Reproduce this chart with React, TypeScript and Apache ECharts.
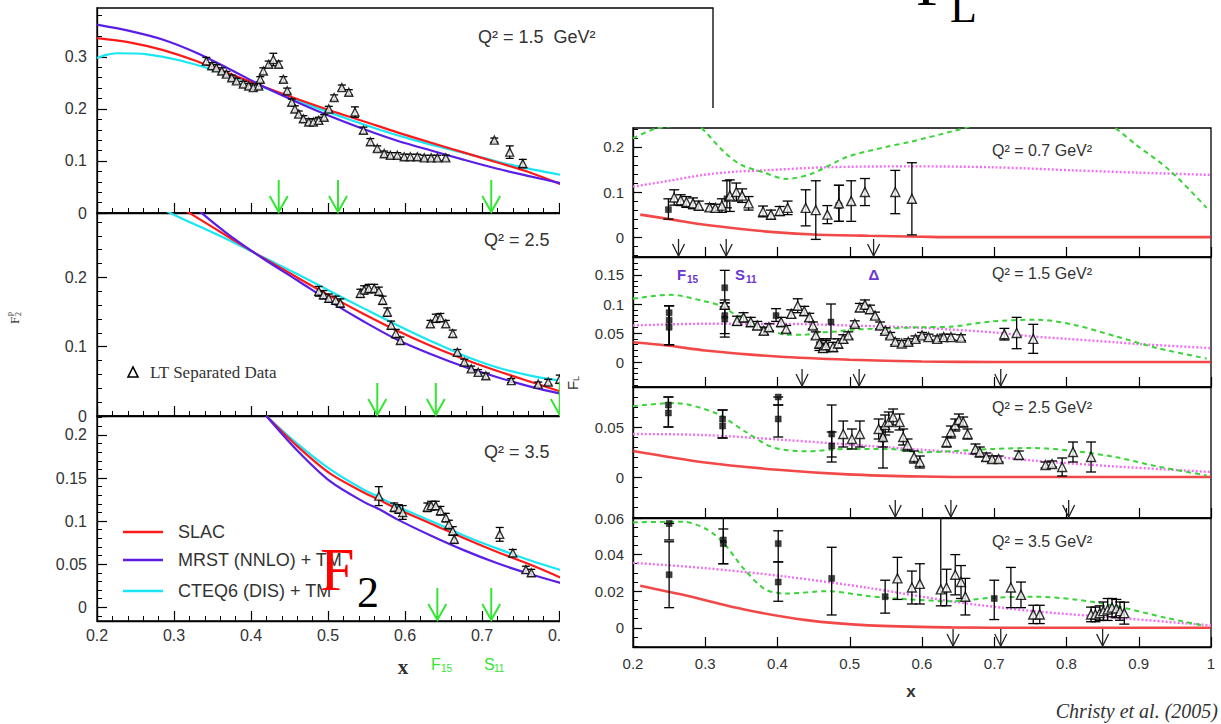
import React, { useEffect, useRef } from "react";
import * as echarts from "echarts";

// ================= DATA =================
// ---- Left figure: F2 (x axis 0.2 - 1.0) ----
const F2_X_TICKS = [0.2, 0.3, 0.4, 0.5, 0.6, 0.7, 0.8, 0.9, 1.0];
const F2A_Y_TICKS = [0, 0.1, 0.2, 0.3];
const F2B_Y_TICKS = [0, 0.1, 0.2];
const F2C_Y_TICKS = [0, 0.05, 0.1, 0.15, 0.2];
const F2_Q2 = ["Q² = 1.5  GeV²", "Q² = 2.5  GeV²", "Q² = 3.5  GeV²"];
const F2_LEGEND = ["SLAC", "MRST (NNLO) + TM", "CTEQ6 (DIS) + TM"];

// Q2 = 1.5
const F2A_X = [0.2, 0.242, 0.286, 0.329, 0.373, 0.416, 0.46, 0.503, 0.547, 0.59, 0.634, 0.677, 0.72, 0.764, 0.803];
const F2A_SLAC = [0.336, 0.328, 0.313, 0.292, 0.267, 0.243, 0.219, 0.197, 0.176, 0.155, 0.135, 0.116, 0.097, 0.077, 0.055];
const F2A_MRST = [0.362, 0.35, 0.333, 0.308, 0.276, 0.243, 0.213, 0.186, 0.161, 0.139, 0.12, 0.102, 0.085, 0.07, 0.057];
const F2A_CTEQ_X = [0.2, 0.21, 0.226, 0.265, 0.308, 0.351, 0.395, 0.438, 0.482, 0.525, 0.569, 0.612, 0.656, 0.699, 0.742, 0.803];
const F2A_CTEQ = [0.298, 0.303, 0.307, 0.305, 0.293, 0.275, 0.253, 0.229, 0.204, 0.181, 0.159, 0.14, 0.123, 0.107, 0.091, 0.073];
const F2A_DATA = [
  [0.342, 0.292, 0.007], [0.349, 0.283, 0.006], [0.355, 0.279, 0.006], [0.362, 0.273, 0.006], [0.368, 0.267, 0.005],
  [0.375, 0.26, 0.005], [0.381, 0.254, 0.005], [0.39, 0.248, 0.005], [0.397, 0.244, 0.005], [0.403, 0.241, 0.005],
  [0.41, 0.244, 0.005], [0.412, 0.257, 0.005], [0.416, 0.273, 0.006], [0.423, 0.286, 0.006], [0.429, 0.295, 0.012],
  [0.436, 0.286, 0.006], [0.442, 0.257, 0.005], [0.447, 0.235, 0.005], [0.453, 0.213, 0.006], [0.457, 0.2, 0.006],
  [0.462, 0.19, 0.006], [0.468, 0.181, 0.006], [0.475, 0.175, 0.006], [0.481, 0.175, 0.006], [0.488, 0.178, 0.006],
  [0.495, 0.184, 0.005], [0.501, 0.2, 0.005], [0.508, 0.222, 0.005], [0.518, 0.241, 0.005], [0.527, 0.232, 0.005],
  [0.535, 0.194, 0.01], [0.546, 0.159, 0.006], [0.555, 0.137, 0.006], [0.564, 0.124, 0.005], [0.573, 0.114, 0.005],
  [0.581, 0.111, 0.005], [0.59, 0.111, 0.005], [0.599, 0.108, 0.005], [0.607, 0.108, 0.005], [0.616, 0.108, 0.005],
  [0.625, 0.106, 0.005], [0.634, 0.106, 0.005], [0.642, 0.106, 0.005], [0.653, 0.106, 0.005],
  [0.716, 0.14, 0.004], [0.736, 0.117, 0.012], [0.753, 0.095, 0.008],
];
const F2A_ARROWS = [0.436, 0.513, 0.712];

// Q2 = 2.5
const F2B_X = [0.373, 0.416, 0.46, 0.503, 0.547, 0.59, 0.634, 0.677, 0.72, 0.764, 0.803];
const F2B_SLAC_X = [0.31, 0.323, ...F2B_X];
const F2B_SLAC = [0.3, 0.291, 0.257, 0.228, 0.2, 0.173, 0.147, 0.123, 0.101, 0.082, 0.065, 0.049, 0.035];
const F2B_MRST_X = [0.33, 0.338, ...F2B_X];
const F2B_MRST = [0.3, 0.291, 0.26, 0.227, 0.196, 0.165, 0.136, 0.11, 0.089, 0.071, 0.056, 0.042, 0.032];
const F2B_CTEQ_X = [0.28, 0.299, ...F2B_X];
const F2B_CTEQ = [0.302, 0.291, 0.253, 0.229, 0.205, 0.18, 0.155, 0.131, 0.108, 0.087, 0.07, 0.058, 0.051];
const F2B_DATA = [
  [0.488, 0.18, 0.007], [0.494, 0.175, 0.006], [0.501, 0.17, 0.006], [0.51, 0.167, 0.006], [0.516, 0.163, 0.006],
  [0.542, 0.177, 0.006], [0.547, 0.182, 0.006], [0.553, 0.184, 0.006], [0.56, 0.184, 0.006], [0.566, 0.18, 0.006],
  [0.571, 0.167, 0.006], [0.577, 0.15, 0.006], [0.582, 0.131, 0.006], [0.588, 0.119, 0.006], [0.594, 0.109, 0.005],
  [0.633, 0.133, 0.005], [0.64, 0.141, 0.006], [0.646, 0.142, 0.006], [0.653, 0.133, 0.005], [0.662, 0.119, 0.005],
  [0.668, 0.092, 0.004], [0.677, 0.078, 0.004], [0.686, 0.068, 0.004], [0.695, 0.063, 0.004], [0.705, 0.058, 0.004],
  [0.738, 0.051, 0.003], [0.773, 0.046, 0.003], [0.786, 0.049, 0.004], [0.801, 0.053, 0.006],
];
const F2B_ARROWS = [0.564, 0.64, 0.801];

// Q2 = 3.5
const F2C_X = [0.42, 0.46, 0.503, 0.547, 0.566, 0.59, 0.634, 0.677, 0.72, 0.764, 0.803];
const F2C_SLAC = [0.222, 0.187, 0.155, 0.133, 0.125, 0.114, 0.097, 0.08, 0.064, 0.049, 0.034];
const F2C_MRST = [0.222, 0.182, 0.146, 0.122, 0.114, 0.102, 0.083, 0.066, 0.051, 0.038, 0.028];
const F2C_CTEQ = [0.222, 0.19, 0.16, 0.136, 0.128, 0.117, 0.1, 0.083, 0.068, 0.054, 0.043];
const F2C_DATA = [
  [0.566, 0.129, 0.011], [0.586, 0.116, 0.005], [0.592, 0.114, 0.005], [0.597, 0.11, 0.008], [0.629, 0.116, 0.005],
  [0.634, 0.118, 0.005], [0.64, 0.118, 0.005], [0.646, 0.112, 0.005], [0.653, 0.104, 0.005], [0.657, 0.096, 0.005],
  [0.662, 0.0885, 0.005], [0.664, 0.079, 0.005], [0.723, 0.0846, 0.008], [0.74, 0.063, 0.004], [0.757, 0.0436, 0.004],
  [0.764, 0.04, 0.004],
];
const F2C_ARROWS = [0.642, 0.712];

// ---- Right figure: FL (x axis 0.2 - 1.0) ----
const FL_X_TICKS = [0.2, 0.3, 0.4, 0.5, 0.6, 0.7, 0.8, 0.9, 1.0];
const FL_Y_TICKS = [[0, 0.1, 0.2], [0, 0.05, 0.1, 0.15], [0, 0.05], [0, 0.02, 0.04, 0.06]];
const FL_Q2 = ["Q² = 0.7 GeV²", "Q² = 1.5 GeV²", "Q² = 2.5 GeV²", "Q² = 3.5 GeV²"];

// Q2 = 0.7
const FL1_GREEN_X = [0.2, 0.23, 0.257, 0.275, 0.291, 0.326, 0.35, 0.38, 0.411, 0.446, 0.497, 0.55, 0.583, 0.64, 0.669, 0.72, 0.77, 0.82, 0.863, 0.897, 0.943, 0.994];
const FL1_GREEN = [0.219, 0.24, 0.247, 0.252, 0.247, 0.189, 0.16, 0.144, 0.129, 0.14, 0.178, 0.2, 0.211, 0.234, 0.247, 0.285, 0.3, 0.285, 0.247, 0.204, 0.148, 0.065];
const FL1_MAG_X = [0.2, 0.25, 0.297, 0.34, 0.38, 0.469, 0.583, 0.697, 0.811, 0.9, 1.0];
const FL1_MAG = [0.112, 0.125, 0.138, 0.145, 0.148, 0.155, 0.157, 0.155, 0.148, 0.143, 0.138];
const FL1_RED_X = [0.21, 0.25, 0.297, 0.35, 0.4, 0.45, 0.526, 0.6, 0.64, 0.7, 0.8, 0.9, 1.0];
const FL1_RED = [0.05, 0.04, 0.028, 0.018, 0.0105, 0.006, 0.003, 0.001, 0, 0, 0, 0, 0];
const FL1_TRI = [
  [0.257, 0.088, 0.017], [0.266, 0.082, 0.012], [0.274, 0.078, 0.012], [0.283, 0.075, 0.012], [0.291, 0.07, 0.01],
  [0.306, 0.066, 0.008], [0.314, 0.065, 0.008], [0.323, 0.07, 0.015], [0.334, 0.092, 0.035], [0.343, 0.1, 0.02],
  [0.351, 0.092, 0.015], [0.36, 0.075, 0.015], [0.38, 0.057, 0.012], [0.391, 0.05, 0.01], [0.403, 0.058, 0.01],
  [0.414, 0.065, 0.015], [0.439, 0.065, 0.04], [0.453, 0.06, 0.065], [0.469, 0.05, 0.02], [0.485, 0.075, 0.04],
  [0.502, 0.08, 0.045], [0.521, 0.1, 0.03], [0.563, 0.1, 0.048], [0.586, 0.085, 0.08],
];
const FL1_SQ = [[0.249, 0.061, 0.04, 0.085], [0.33, 0.085, 0.065, 0.125], [0.485, 0.07, 0.035, 0.115]];
const FL1_ARROWS = [0.263, 0.329, 0.533];

// Q2 = 1.5
const FL2_GREEN_X = [0.2, 0.251, 0.298, 0.321, 0.344, 0.367, 0.391, 0.414, 0.437, 0.46, 0.484, 0.507, 0.553, 0.6, 0.64, 0.697, 0.76, 0.811, 0.869, 0.926, 0.994];
const FL2_GREEN = [0.109, 0.116, 0.105, 0.097, 0.08, 0.066, 0.054, 0.047, 0.047, 0.051, 0.053, 0.056, 0.058, 0.06, 0.061, 0.07, 0.073, 0.064, 0.044, 0.024, 0.006];
const FL2_MAG_X = [0.2, 0.3, 0.4, 0.5, 0.6, 0.64, 0.7, 0.754, 0.8, 0.869, 0.9, 1.0];
const FL2_MAG = [0.063, 0.066, 0.066, 0.063, 0.059, 0.056, 0.051, 0.044, 0.04, 0.034, 0.031, 0.024];
const FL2_RED_X = [0.2, 0.25, 0.3, 0.4, 0.5, 0.6, 0.7, 0.8, 1.0];
const FL2_RED = [0.034, 0.028, 0.02, 0.0095, 0.004, 0.001, 0, 0, 0];
const FL2_TRI = [
  [0.327, 0.099, 0.008], [0.344, 0.071, 0.008], [0.353, 0.077, 0.008], [0.363, 0.069, 0.008], [0.372, 0.063, 0.007],
  [0.381, 0.054, 0.006], [0.388, 0.06, 0.006], [0.405, 0.069, 0.008], [0.412, 0.057, 0.006], [0.419, 0.083, 0.007],
  [0.428, 0.097, 0.012], [0.437, 0.088, 0.008], [0.444, 0.077, 0.007], [0.449, 0.063, 0.006], [0.453, 0.046, 0.006],
  [0.458, 0.032, 0.008], [0.463, 0.024, 0.007], [0.467, 0.029, 0.008], [0.477, 0.026, 0.008], [0.484, 0.032, 0.008],
  [0.491, 0.04, 0.007], [0.498, 0.046, 0.006], [0.507, 0.066, 0.005], [0.514, 0.094, 0.007], [0.521, 0.099, 0.008],
  [0.528, 0.091, 0.007], [0.535, 0.08, 0.006], [0.542, 0.063, 0.006], [0.549, 0.054, 0.005], [0.556, 0.046, 0.005],
  [0.563, 0.035, 0.005], [0.572, 0.032, 0.005], [0.581, 0.035, 0.005], [0.591, 0.04, 0.005], [0.6, 0.046, 0.005],
  [0.609, 0.043, 0.005], [0.621, 0.04, 0.005], [0.63, 0.043, 0.005], [0.64, 0.043, 0.005], [0.654, 0.042, 0.005],
  [0.714, 0.048, 0.01], [0.731, 0.05, 0.027], [0.754, 0.04, 0.025],
];
const FL2_SQ = [
  [0.25, 0.085, 0.03, 0.097], [0.25, 0.072, 0.03, 0.097], [0.25, 0.06, 0.03, 0.097],
  [0.327, 0.128, 0.102, 0.158], [0.327, 0.08, 0.043, 0.102], [0.327, 0.074, 0.049, 0.095],
  [0.398, 0.08, 0.07, 0.092], [0.474, 0.069, 0.04, 0.1], [0.467, 0.028, 0.018, 0.04], [0.458, 0.03, 0.02, 0.04],
];
const FL2_ARROWS = [0.434, 0.513, 0.709];

// Q2 = 2.5
const FL3_GREEN_X = [0.2, 0.257, 0.314, 0.354, 0.394, 0.44, 0.497, 0.554, 0.6, 0.64, 0.697, 0.754, 0.811, 0.869, 0.926, 0.994];
const FL3_GREEN = [0.0707, 0.074, 0.064, 0.046, 0.0296, 0.0257, 0.028, 0.028, 0.0247, 0.0257, 0.028, 0.029, 0.026, 0.0197, 0.0105, 0.0016];
const FL3_MAG_X = [0.2, 0.297, 0.411, 0.526, 0.64, 0.754, 0.869, 1.0];
const FL3_MAG = [0.043, 0.042, 0.037, 0.031, 0.025, 0.0164, 0.0105, 0.005];
const FL3_RED_X = [0.2, 0.297, 0.4, 0.497, 0.6, 0.7, 1.0];
const FL3_RED = [0.026, 0.0148, 0.0072, 0.0026, 0.0005, 0, 0];
const FL3_TRI = [
  [0.491, 0.043, 0.013], [0.503, 0.038, 0.01], [0.514, 0.043, 0.013], [0.54, 0.048, 0.01], [0.546, 0.04, 0.01],
  [0.549, 0.052, 0.01], [0.554, 0.055, 0.01], [0.56, 0.06, 0.008], [0.569, 0.055, 0.008], [0.574, 0.04, 0.008],
  [0.58, 0.032, 0.006], [0.589, 0.02, 0.006], [0.597, 0.015, 0.006], [0.634, 0.035, 0.005], [0.64, 0.045, 0.006],
  [0.646, 0.052, 0.006], [0.651, 0.057, 0.006], [0.657, 0.055, 0.005], [0.663, 0.043, 0.005], [0.674, 0.028, 0.005],
  [0.68, 0.025, 0.005], [0.689, 0.02, 0.004], [0.697, 0.018, 0.003], [0.706, 0.018, 0.003], [0.734, 0.022, 0.004],
  [0.771, 0.012, 0.003], [0.78, 0.013, 0.003], [0.794, 0.01, 0.009], [0.809, 0.025, 0.01], [0.834, 0.02, 0.015],
];
const FL3_SQ = [
  [0.249, 0.072, 0.05, 0.08], [0.249, 0.064, 0.05, 0.08], [0.324, 0.058, 0.039, 0.067], [0.324, 0.051, 0.039, 0.067],
  [0.401, 0.08, 0.072, 0.08], [0.401, 0.058, 0.04, 0.072], [0.475, 0.043, 0.015, 0.072], [0.475, 0.031, 0.02, 0.045],
  [0.546, 0.038, 0.009, 0.05],
];
const FL3_ARROWS = [0.563, 0.64, 0.803];

// Q2 = 3.5
const FL4_GREEN_X = [0.2, 0.269, 0.303, 0.326, 0.354, 0.383, 0.411, 0.469, 0.526, 0.583, 0.64, 0.697, 0.754, 0.811, 0.869, 0.937, 0.989];
const FL4_GREEN = [0.0576, 0.058, 0.0536, 0.046, 0.032, 0.021, 0.0187, 0.02, 0.0173, 0.0155, 0.0145, 0.0164, 0.017, 0.0155, 0.0118, 0.0055, 0.0013];
const FL4_MAG_X = [0.2, 0.297, 0.411, 0.526, 0.64, 0.754, 0.869, 1.0];
const FL4_MAG = [0.0355, 0.0327, 0.028, 0.0218, 0.0145, 0.0091, 0.0055, 0.0013];
const FL4_RED_X = [0.21, 0.269, 0.354, 0.44, 0.526, 0.64, 0.75, 1.0];
const FL4_RED = [0.023, 0.018, 0.01, 0.0042, 0.0013, 0.0002, 0, 0];
const FL4_TRI = [
  [0.566, 0.027, 0.0115], [0.586, 0.022, 0.009], [0.597, 0.024, 0.011], [0.626, 0.021, 0.012, 0.065],
  [0.634, 0.022, 0.01], [0.646, 0.029, 0.011], [0.654, 0.025, 0.009], [0.66, 0.017, 0.01], [0.723, 0.022, 0.011],
  [0.737, 0.018, 0.007], [0.754, 0.0073, 0.005], [0.763, 0.0073, 0.005], [0.834, 0.0073, 0.004], [0.84, 0.0073, 0.004],
  [0.846, 0.008, 0.004], [0.851, 0.0091, 0.005], [0.857, 0.01, 0.006], [0.863, 0.011, 0.005], [0.869, 0.0105, 0.005],
  [0.874, 0.0091, 0.005], [0.88, 0.008, 0.006],
];
const FL4_SQ = [
  [0.25, 0.057, 0.048, 0.057], [0.25, 0.029, 0.011, 0.047], [0.325, 0.048, 0.035, 0.054], [0.325, 0.046, 0.035, 0.06],
  [0.401, 0.046, 0.036, 0.053], [0.401, 0.025, 0.0145, 0.036], [0.475, 0.027, 0.007, 0.044], [0.549, 0.017, 0.008, 0.026],
  [0.7, 0.016, 0.0045, 0.026],
];
const FL4_ARROWS = [0.643, 0.709, 0.85];

// ================= HELPERS =================
const SANS = '"Liberation Sans", Arial, Helvetica, sans-serif';
const SERIF = '"Liberation Serif", "Times New Roman", serif';
const C_SLAC = "#ff1a1a";
const C_MRST = "#5a1ee6";
const C_CTEQ = "#19e6f5";
const C_ARROW_G = "#33e633";
const C_GREEN = "#3ad43a";
const C_MAG = "#f070f0";
const C_RED = "#f02828";

const fmt = (v: any) => String(+(+v).toFixed(3));

function stepVals(a: number, b: number, s: number) {
  const out: number[] = [];
  const n = Math.round((b - a) / s);
  for (let i = 0; i <= n; i++) out.push(+(a + i * s).toFixed(5));
  return out;
}

function yPair(grid: number, min: number, max: number, majors: number[], minorStep: number, fontSize: number, majorLen: number, minorLen: number, margin: number) {
  const from = Math.ceil(min / minorStep - 1e-6) * minorStep;
  const to = Math.floor(max / minorStep + 1e-6) * minorStep;
  const minors = stepVals(from, to, minorStep).filter((v) => !majors.some((m) => Math.abs(m - v) < 1e-6));
  return [
    {
      type: "value", gridIndex: grid, min, max, position: "left",
      axisLine: { show: true, onZero: false, lineStyle: { color: "#000", width: 1.3 } },
      axisTick: { show: true, inside: true, length: majorLen, customValues: majors, lineStyle: { color: "#000", width: 1.2 } },
      axisLabel: { show: true, customValues: majors, formatter: fmt, fontSize, color: "#333", fontFamily: SANS, margin },
      splitLine: { show: false },
    },
    {
      type: "value", gridIndex: grid, min, max, position: "left",
      axisLine: { show: false },
      axisTick: { show: true, inside: true, length: minorLen, customValues: minors, lineStyle: { color: "#000", width: 1 } },
      axisLabel: { show: false },
      splitLine: { show: false },
    },
  ];
}

function curve(xs: number[], ys: number[], color: string, width: number, type: any, xi: number, yi: number, opacity = 1) {
  return {
    type: "line", xAxisIndex: xi, yAxisIndex: yi,
    data: xs.map((x, i) => [x, ys[i]]),
    symbol: "none", showSymbol: false, smooth: 0.3, clip: true, silent: true,
    lineStyle: { color, width, type, opacity }, z: 2,
  };
}

function errBars(pts: number[][], xi: number, yi: number, cap: number) {
  return {
    type: "custom", xAxisIndex: xi, yAxisIndex: yi, clip: true, silent: true, z: 3,
    data: pts.map((p) => [p[0], p.length === 4 ? p[2] : p[1] - p[2], p.length === 4 ? p[3] : p[1] + p[2]]),
    encode: { x: 0, y: [1, 2] },
    renderItem: (params: any, api: any) => {
      const x = api.value(0);
      const a = api.coord([x, api.value(1)]);
      const b = api.coord([x, api.value(2)]);
      const st = { stroke: "#000", lineWidth: 1.3 };
      return {
        type: "group",
        children: [
          { type: "line", shape: { x1: a[0], y1: a[1], x2: b[0], y2: b[1] }, style: st },
          { type: "line", shape: { x1: a[0] - cap, y1: a[1], x2: a[0] + cap, y2: a[1] }, style: st },
          { type: "line", shape: { x1: b[0] - cap, y1: b[1], x2: b[0] + cap, y2: b[1] }, style: st },
        ],
      };
    },
  };
}

function points(pts: number[][], xi: number, yi: number, kind: "tri" | "sq", size: number) {
  return {
    type: "scatter", xAxisIndex: xi, yAxisIndex: yi, silent: true, z: 4,
    data: pts.map((p) => [p[0], p[1]]),
    symbol: kind === "tri" ? "triangle" : "rect",
    symbolSize: size,
    itemStyle: kind === "tri" ? { color: "#fff", borderColor: "#000", borderWidth: 1.4 } : { color: "#111", borderColor: "#000", borderWidth: 0.5 },
  };
}

function arrows(xs: number[], yBase: number, xi: number, yi: number, len: number, hh: number, hw: number, color: string, w: number) {
  return {
    type: "custom", xAxisIndex: xi, yAxisIndex: yi, silent: true, z: 5, clip: false,
    data: xs.map((x) => [x, yBase]),
    encode: { x: 0, y: 1 },
    renderItem: (params: any, api: any) => {
      const p = api.coord([api.value(0), api.value(1)]);
      const x = p[0], y = p[1] - 1;
      const st = { stroke: color, lineWidth: w, fill: null };
      return {
        type: "group",
        children: [
          { type: "line", shape: { x1: x, y1: y - len, x2: x, y2: y }, style: st },
          { type: "polyline", shape: { points: [[x - hw, y - hh], [x, y], [x + hw, y - hh]] }, style: st },
        ],
      };
    },
  };
}

function txt(x: number, y: number, text: string, font: string, fill = "#333", align = "left", extra: any = {}) {
  return {
    type: "text", x, y, silent: true, z: 20, ...extra,
    style: { text, font, fill, align, textAlign: align, verticalAlign: "middle", textVerticalAlign: "middle" },
  };
}

// ================= LEFT (F2) OPTION =================
function buildLeft() {
  const gridBoxes = [
    { top: 8, height: 205 },
    { top: 213, height: 203 },
    { top: 416, height: 205 },
  ];
  const grid = gridBoxes.map((g) => ({
    left: 97, width: 616, top: g.top, height: g.height, show: true,
    borderColor: "#000", borderWidth: 1.3, backgroundColor: "transparent",
  }));
  const xAxis = [0, 1, 2].map((i) => ({
    type: "value", gridIndex: i, min: F2_X_TICKS[0], max: F2_X_TICKS[F2_X_TICKS.length - 1], interval: 0.1,
    axisLine: { show: true, onZero: false, lineStyle: { color: "#000", width: 1.3 } },
    axisTick: { show: true, inside: true, length: 10, lineStyle: { color: "#000", width: 1.2 } },
    minorTick: { show: true, splitNumber: 5, length: 5, lineStyle: { color: "#000", width: 1 } },
    axisLabel: { show: i === 2, formatter: fmt, fontSize: 16, color: "#333", fontFamily: SANS, margin: 6 },
    splitLine: { show: false }, minorSplitLine: { show: false },
  }));
  const yAxis = [
    ...yPair(0, 0, 0.394, F2A_Y_TICKS, 0.02, 16, 10, 5, 10),
    ...yPair(1, 0, 0.293, F2B_Y_TICKS, 0.02, 16, 10, 5, 10),
    ...yPair(2, -0.016, 0.222, F2C_Y_TICKS, 0.01, 16, 10, 5, 10),
  ];
  const series: any[] = [];
  const panels = [
    { slac: [F2A_X, F2A_SLAC], mrst: [F2A_X, F2A_MRST], cteq: [F2A_CTEQ_X, F2A_CTEQ], data: F2A_DATA, arr: F2A_ARROWS, ymin: 0 },
    { slac: [F2B_SLAC_X, F2B_SLAC], mrst: [F2B_MRST_X, F2B_MRST], cteq: [F2B_CTEQ_X, F2B_CTEQ], data: F2B_DATA, arr: F2B_ARROWS, ymin: 0 },
    { slac: [F2C_X, F2C_SLAC], mrst: [F2C_X, F2C_MRST], cteq: [F2C_X, F2C_CTEQ], data: F2C_DATA, arr: F2C_ARROWS, ymin: -0.016 },
  ];
  panels.forEach((p, i) => {
    const yi = 2 * i;
    series.push(curve(p.cteq[0], p.cteq[1], C_CTEQ, 2.2, "solid", i, yi));
    series.push(curve(p.slac[0], p.slac[1], C_SLAC, 2.2, "solid", i, yi));
    series.push(curve(p.mrst[0], p.mrst[1], C_MRST, 2.2, "solid", i, yi));
    series.push(errBars(p.data, i, yi, 4));
    series.push(points(p.data, i, yi, "tri", 8));
    series.push(arrows(p.arr, p.ymin, i, yi, 32, 16, 9, C_ARROW_G, 2));
  });

  const sub = (x: number, y: number, a: string, b: string, color: string, fa: number, fb: number, font = SANS, weight = "normal") => [
    txt(x, y, a, `${weight} ${fa}px ${font}`, color),
    txt(x + fa * 0.62, y + fa * 0.28, b, `${weight} ${fb}px ${font}`, color),
  ];

  const graphic: any[] = [
    txt(478, 37, F2_Q2[0], `18px ${SANS}`),
    txt(484, 240, F2_Q2[1], `18px ${SANS}`),
    txt(484, 452, F2_Q2[2], `18px ${SANS}`),
    // LT legend
    { type: "polygon", silent: true, z: 20, shape: { points: [[128, 377], [138, 377], [133, 367]] }, style: { fill: "#fff", stroke: "#000", lineWidth: 1.6 } },
    txt(150, 372, "LT Separated Data", `17px ${SERIF}`),
    // curve legend
    { type: "line", silent: true, z: 20, shape: { x1: 123, y1: 532, x2: 163, y2: 532 }, style: { stroke: C_SLAC, lineWidth: 2.5 } },
    { type: "line", silent: true, z: 20, shape: { x1: 123, y1: 560, x2: 163, y2: 560 }, style: { stroke: C_MRST, lineWidth: 2.5 } },
    { type: "line", silent: true, z: 20, shape: { x1: 123, y1: 591, x2: 163, y2: 591 }, style: { stroke: C_CTEQ, lineWidth: 2.5 } },
    txt(178, 532, F2_LEGEND[0], `18px ${SANS}`),
    txt(178, 560, F2_LEGEND[1], `18px ${SANS}`),
    txt(178, 591, F2_LEGEND[2], `18px ${SANS}`),
    // big F2
    txt(320, 569, "F", `62px ${SERIF}`, "#ff0000"),
    txt(357, 592, "2", `44px ${SERIF}`, "#000"),
    // big FL at top
    txt(916, -16, "F", `62px ${SERIF}`, "#000"),
    txt(950, 7, "L", `44px ${SERIF}`, "#000"),
    // x label and resonance labels
    txt(403, 667, "x", `bold 21px ${SERIF}`, "#333", "center"),
    ...sub(431, 664, "F", "15", C_ARROW_G, 16, 10),
    ...sub(484, 664, "S", "11", C_ARROW_G, 16, 10),
    // y label
    {
      type: "group", x: 14, y: 318, rotation: Math.PI / 2, silent: true, z: 20,
      children: [
        txt(-6, 0, "F", `13px ${SERIF}`, "#333"),
        txt(2, 4, "2", `8px ${SERIF}`, "#333"),
        txt(2, -5, "p", `8px ${SERIF}`, "#333"),
      ],
    },
  ];

  return { animation: false, backgroundColor: "#fff", grid, xAxis, yAxis, series, graphic };
}

// ================= RIGHT (FL) OPTION =================
function buildRight() {
  const boxes = [
    { top: 20, height: 129 },
    { top: 149, height: 130 },
    { top: 279, height: 131 },
    { top: 410, height: 129 },
  ];
  const ranges = [[-0.044, 0.242], [-0.043, 0.181], [-0.041, 0.09], [-0.0105, 0.06]];
  const minorSteps = [0.02, 0.01, 0.01, 0.005];
  const grid = boxes.map((g) => ({
    left: 73, right: 10, top: g.top, height: g.height, show: true,
    borderColor: "#000", borderWidth: 1.3, backgroundColor: "transparent",
  }));
  const xAxis = [0, 1, 2, 3].map((i) => ({
    type: "value", gridIndex: i, min: FL_X_TICKS[0], max: FL_X_TICKS[FL_X_TICKS.length - 1], interval: 0.1,
    axisLine: { show: true, onZero: false, lineStyle: { color: "#000", width: 1.3 } },
    axisTick: { show: true, inside: true, length: 10, lineStyle: { color: "#000", width: 1.2 } },
    axisLabel: { show: i === 3, formatter: fmt, fontSize: 15, color: "#333", fontFamily: SANS, margin: 9 },
    splitLine: { show: false },
  }));
  const yAxis: any[] = [];
  for (let i = 0; i < 4; i++) yAxis.push(...yPair(i, ranges[i][0], ranges[i][1], FL_Y_TICKS[i], minorSteps[i], 15, 9, 5, 9));

  const panels = [
    { g: [FL1_GREEN_X, FL1_GREEN], m: [FL1_MAG_X, FL1_MAG], r: [FL1_RED_X, FL1_RED], tri: FL1_TRI, sq: FL1_SQ, arr: FL1_ARROWS },
    { g: [FL2_GREEN_X, FL2_GREEN], m: [FL2_MAG_X, FL2_MAG], r: [FL2_RED_X, FL2_RED], tri: FL2_TRI, sq: FL2_SQ, arr: FL2_ARROWS },
    { g: [FL3_GREEN_X, FL3_GREEN], m: [FL3_MAG_X, FL3_MAG], r: [FL3_RED_X, FL3_RED], tri: FL3_TRI, sq: FL3_SQ, arr: FL3_ARROWS },
    { g: [FL4_GREEN_X, FL4_GREEN], m: [FL4_MAG_X, FL4_MAG], r: [FL4_RED_X, FL4_RED], tri: FL4_TRI, sq: FL4_SQ, arr: FL4_ARROWS },
  ];
  const series: any[] = [];
  panels.forEach((p, i) => {
    const yi = 2 * i;
    series.push(curve(p.r[0], p.r[1], C_RED, 2.6, "solid", i, yi, 0.85));
    series.push(curve(p.m[0], p.m[1], C_MAG, 2.4, [2, 2], i, yi));
    series.push(curve(p.g[0], p.g[1], C_GREEN, 2, [5, 4], i, yi));
    series.push(errBars([...p.tri, ...p.sq], i, yi, 5));
    series.push(points(p.sq, i, yi, "sq", 6));
    series.push(points(p.tri, i, yi, "tri", 9));
    series.push(arrows(p.arr, ranges[i][0], i, yi, 17, 12, 6, "#222", 1.3));
  });

  const purple = "#6a35d6";
  const graphic: any[] = [
    txt(432, 42, FL_Q2[0], `16px ${SANS}`),
    txt(432, 165, FL_Q2[1], `16px ${SANS}`),
    txt(432, 299, FL_Q2[2], `16px ${SANS}`),
    txt(432, 433, FL_Q2[3], `16px ${SANS}`),
    txt(117, 166, "F", `bold 15px ${SANS}`, purple),
    txt(127, 171, "15", `bold 10px ${SANS}`, purple),
    txt(175, 166, "S", `bold 15px ${SANS}`, purple),
    txt(186, 171, "11", `bold 10px ${SANS}`, purple),
    txt(314, 166, "Δ", `bold 15px ${SANS}`, purple, "center"),
    txt(351, 583, "x", `bold 17px ${SANS}`, "#333", "center"),
    txt(658, 603, "Christy et al. (2005)", `italic 20px ${SERIF}`, "#333", "right"),
    {
      type: "group", x: 12, y: 276, rotation: Math.PI / 2, silent: true, z: 20,
      children: [
        txt(-6, 0, "F", `15px ${SANS}`, "#333"),
        txt(3, 4, "L", `9px ${SANS}`, "#333"),
      ],
    },
  ];
  return { animation: false, backgroundColor: "#fff", grid, xAxis, yAxis, series, graphic };
}

export default function App() {
  const leftRef = useRef<HTMLDivElement>(null);
  const rightRef = useRef<HTMLDivElement>(null);
  useEffect(() => {
    const l = echarts.init(leftRef.current!, null, { renderer: "svg" });
    const r = echarts.init(rightRef.current!, null, { renderer: "svg" });
    l.setOption(buildLeft() as any);
    r.setOption(buildRight() as any);
    return () => {
      l.dispose();
      r.dispose();
    };
  }, []);
  return (
    <div style={{ position: "absolute", left: 0, top: 0, width: 1221, height: 724, background: "#fff", overflow: "hidden" }}>
      <div ref={leftRef} style={{ position: "absolute", left: 0, top: 0, width: 1221, height: 724 }} />
      <div ref={rightRef} style={{ position: "absolute", left: 560, top: 108, width: 661, height: 616, background: "#fff" }} />
    </div>
  );
}
